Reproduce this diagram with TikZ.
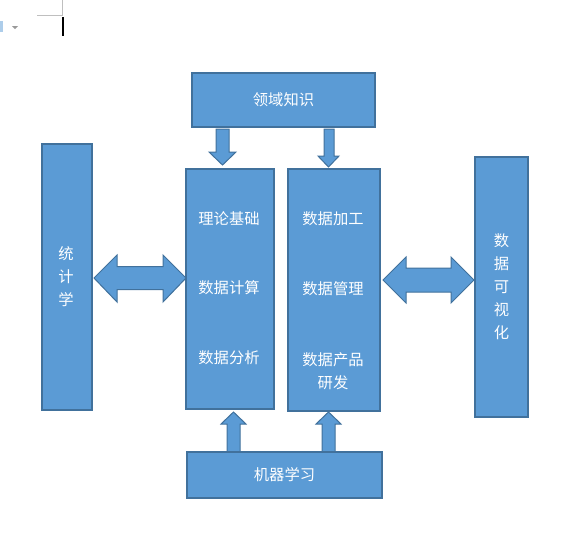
\documentclass[tikz,border=0pt]{standalone}
\usepackage{fontspec}
\newfontfamily\cjk{Noto Sans CJK SC}
\definecolor{boxfill}{HTML}{5B9BD5}
\definecolor{boxline}{HTML}{41719C}
\begin{document}
\begin{tikzpicture}[x=1pt,y=-1pt,
  blk/.style={draw=boxline,fill=boxfill,line width=1.6pt,inner sep=0pt},
  barrow/.style={draw=boxline,fill=boxfill,line width=1pt,line join=miter},
  lbl/.style={text=white,font=\cjk\fontsize{15.3}{23}\selectfont,align=center,inner sep=0pt}]
\useasboundingbox (0,0) rectangle (569,542);
% window artifacts
\draw[gray!50,line width=0.8pt] (37,15) -- (62,15) -- (62,0);
\draw[black,line width=1.5pt] (63,17) -- (63,36);
\fill[gray!80] (12,26) -- (18,26) -- (15,29) -- cycle;
\fill[boxfill!50] (0,21) rectangle (3,32);
% block arrows
\draw[barrow] (94,278) -- (117,255) -- (117,266.5) -- (163,266.5) -- (163,255) -- (186,278)
  -- (163,302) -- (163,289.5) -- (117,289.5) -- (117,302) -- cycle;
\draw[barrow] (383,280) -- (406,257) -- (406,268) -- (451,268) -- (451,257) -- (474,280)
  -- (451,303) -- (451,292) -- (406,292) -- (406,303) -- cycle;
\draw[barrow] (216,129) -- (229,129) -- (229,152) -- (236,152) -- (222.5,165) -- (209,152) -- (216,152) -- cycle;
\draw[barrow] (324,129) -- (334,129) -- (334,156) -- (339,156) -- (328.5,167) -- (318,156) -- (324,156) -- cycle;
\draw[barrow] (227,452) -- (240,452) -- (240,424) -- (246,424) -- (233.5,412) -- (221,424) -- (227,424) -- cycle;
\draw[barrow] (322,452) -- (335,452) -- (335,424) -- (341,424) -- (328.5,412) -- (316,424) -- (322,424) -- cycle;
% boxes
\node[blk,minimum width=183pt,minimum height=54pt] (domain) at (283.5,100) {};
\node[blk,minimum width=50pt,minimum height=266pt] (stat) at (67,277) {};
\node[blk,minimum width=88pt,minimum height=240pt] (theory) at (230,289) {};
\node[blk,minimum width=92pt,minimum height=242pt] (data) at (334,290) {};
\node[blk,minimum width=53pt,minimum height=260pt] (vis) at (501.5,287) {};
\node[blk,minimum width=195pt,minimum height=46pt] (ml) at (284.5,475) {};
% labels
\node[lbl] (tdomain) at (domain.center) {领域知识};
\node[lbl] (tstat) at (66,277) {统\\计\\学};
\node[lbl] (tvis) at (501.5,287) {数\\据\\可\\视\\化};
\node[lbl] (tml) at (ml.center) {机器学习};
\node[lbl] (t1) at (229,219) {理论基础};
\node[lbl] (t2) at (229,288) {数据计算};
\node[lbl] (t3) at (229,358) {数据分析};
\node[lbl] (t4) at (333,219) {数据加工};
\node[lbl] (t5) at (333,289) {数据管理};
\node[lbl] (t6) at (333,371) {数据产品\\研发};
\end{tikzpicture}
\end{document}
